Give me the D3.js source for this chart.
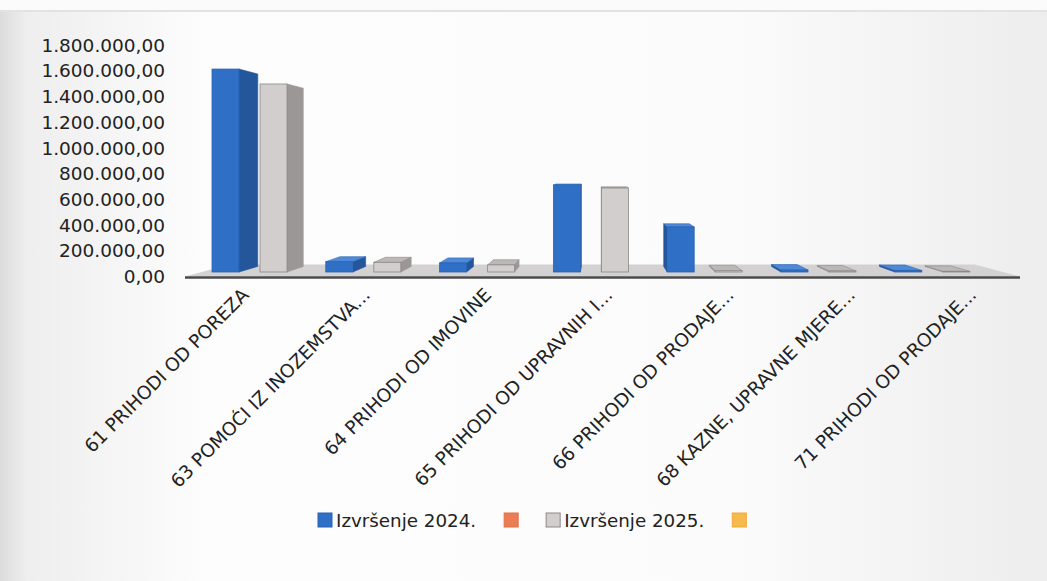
<!DOCTYPE html>
<html>
<head>
    <meta charset="utf-8">
    <title>Izvršenje prihoda</title>
    <script src="https://d3js.org/d3.v7.min.js"></script>
    <style>
        html, body { margin: 0; padding: 0; background: #fbfbfb; }
        svg { display: block; font-family: "DejaVu Sans", sans-serif; }
    </style>
</head>
<body>
    <svg width="1047" height="581"></svg>
    <script>
        // podaci
        const categories = [
            "61 PRIHODI OD POREZA",
            "63 POMOĆI IZ INOZEMSTVA...",
            "64 PRIHODI OD IMOVINE",
            "65 PRIHODI OD UPRAVNIH I...",
            "66 PRIHODI OD PRODAJE...",
            "68 KAZNE, UPRAVNE MJERE...",
            "71 PRIHODI OD PRODAJE..."
        ];
        const izvrsenje2024 = [1578000, 80000, 70000, 676000, 350000, 15000, 12000];
        const izvrsenje2025 = [1462000, 75000, 55000, 653000, 10000, 8000, 5000];
        const seriesNames = ["Izvršenje 2024.", "", "Izvršenje 2025.", ""];
        const yTicks = [0, 200000, 400000, 600000, 800000, 1000000, 1200000, 1400000, 1600000, 1800000];

        const svg = d3.select("svg"),
              width = +svg.attr("width"),
              height = +svg.attr("height");

        // pozadina (skenirani papir)
        const defs = svg.append("defs");
        const bg = defs.append("linearGradient").attr("id", "bg");
        [[0, "#dcdcdc"], [0.025, "#eeeeee"], [0.2, "#fdfdfd"], [0.7, "#fbfbfb"], [1, "#eeeded"]]
            .forEach(s => bg.append("stop").attr("offset", s[0]).attr("stop-color", s[1]));
        svg.append("rect").attr("width", width).attr("height", height).attr("fill", "#fbfbfb");
        svg.append("rect").attr("y", 11).attr("width", width).attr("height", height - 11).attr("fill", "url(#bg)");
        svg.append("rect").attr("y", 10).attr("width", width).attr("height", 2).attr("fill", "#e2e2e2");

        // perspektiva
        const VX = 600, VY = 165, S = 0.948;
        const back = p => [VX + (p[0] - VX) * S, VY + (p[1] - VY) * S];

        const yAxis = d3.scaleLinear().domain([0, 1800000]).range([276.5, 45]);
        const yBar = d3.scaleLinear().domain([0, 1800000]).range([272, 40.5]);

        const x = d3.scaleBand().domain(categories).range([192.6, 989.2]);
        const x1 = d3.scaleBand().domain(["2024", "2025"]).range([0, x.bandwidth()])
                     .paddingInner(0.4375).paddingOuter(0.404);
        const xLabel = d3.scaleBand().domain(categories).range([189.4, 1038.1]);

        // pod
        const fl = [[185, 276.5], [1020, 276.5]];
        const floorPts = [fl[0], fl[1],
            [VX + (fl[1][0] - VX) * 0.892, VY + (fl[1][1] - VY) * 0.892],
            [VX + (fl[0][0] - VX) * 0.892, VY + (fl[0][1] - VY) * 0.892]];
        svg.append("polygon").attr("points", floorPts.join(" ")).attr("fill", "#d3d1d1");
        svg.append("line").attr("x1", fl[0][0]).attr("x2", fl[1][0])
           .attr("y1", 277.5).attr("y2", 277.5)
           .attr("stroke", "#4a4a4a").attr("stroke-width", 2.5);

        // y os
        const fmt = d3.formatLocale({decimal: ",", thousands: ".", grouping: [3], currency: ["", ""]}).format(",.2f");
        svg.append("g").selectAll("text").data(yTicks).join("text")
           .attr("x", 165).attr("y", d => yAxis(d))
           .attr("dy", "0.36em")
           .attr("text-anchor", "end")
           .attr("font-size", 18.5)
           .attr("fill", "#222")
           .text(d => fmt(d));

        // stupci
        const styles = {
            "2024": {front: "#2f6fc6", side: "#24569c", top: "#4f8ad8", stroke: "#2a63b2"},
            "2025": {front: "#d2cece", side: "#9c9797", top: "#bcb8b8", stroke: "#8c8888"}
        };
        const bars = [];
        categories.forEach((c, i) => {
            bars.push({cat: c, key: "2024", value: izvrsenje2024[i]});
            bars.push({cat: c, key: "2025", value: izvrsenje2025[i]});
        });

        const gBars = svg.append("g");
        bars.forEach(d => {
            const st = styles[d.key];
            const x0 = x(d.cat) + x1(d.key), xr = x0 + x1.bandwidth();
            const yt = yBar(d.value), yb = yBar(0);
            const g = gBars.append("g");
            if (xr < VX) {
                g.append("polygon")
                 .attr("points", [[xr, yt], back([xr, yt]), back([xr, yb]), [xr, yb]].join(" "))
                 .attr("fill", st.side).attr("stroke", st.side).attr("stroke-width", 0.6);
            } else if (x0 > VX) {
                g.append("polygon")
                 .attr("points", [[x0, yt], back([x0, yt]), back([x0, yb]), [x0, yb]].join(" "))
                 .attr("fill", st.side).attr("stroke", st.side).attr("stroke-width", 0.6);
            }
            if (yt > VY) {
                g.append("polygon")
                 .attr("points", [[x0, yt], [xr, yt], back([xr, yt]), back([x0, yt])].join(" "))
                 .attr("fill", st.top).attr("stroke", st.stroke).attr("stroke-width", 0.6);
            }
            g.append("rect")
             .attr("x", x0).attr("y", yt)
             .attr("width", xr - x0).attr("height", yb - yt)
             .attr("fill", st.front).attr("stroke", st.stroke).attr("stroke-width", 0.8);
        });

        // x oznake
        svg.append("g").selectAll("text").data(categories).join("text")
           .attr("transform", d => `translate(${xLabel(d) + xLabel.bandwidth() / 2},296) rotate(-45)`)
           .attr("text-anchor", "end")
           .attr("font-size", 18.5)
           .attr("fill", "#222")
           .text(d => d);

        // legenda
        const legendColors = ["#2f6fc6", "#ec7c55", "#d2cece", "#f6b94a"];
        const legendStroke = ["#2a63b2", "#e07048", "#8c8888", "#eeaa3a"];
        let lx = 318;
        const gLeg = svg.append("g");
        seriesNames.forEach((name, i) => {
            gLeg.append("rect").attr("x", lx).attr("y", 513).attr("width", 14).attr("height", 14)
                .attr("fill", legendColors[i]).attr("stroke", legendStroke[i]).attr("stroke-width", 1);
            lx += 14;
            if (name) {
                const t = gLeg.append("text").attr("x", lx + 4).attr("y", 520).attr("dy", "0.36em")
                              .attr("font-size", 18.3).attr("fill", "#222").text(name);
                lx += 4 + t.node().getComputedTextLength();
            }
            lx += 28;
        });
    </script>
</body>
</html>
